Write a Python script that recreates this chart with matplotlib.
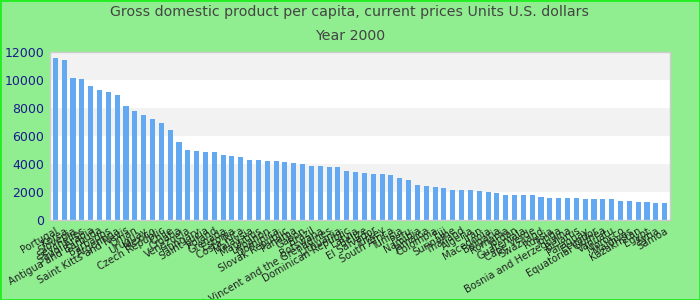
import numpy as np
import matplotlib
matplotlib.use("Agg")
from matplotlib import pyplot as plt
from matplotlib.patches import Rectangle

countries = [
    "Portugal", "Korea", "Slovenia", "Seychelles", "Saudi Arabia", "Antigua and Barbuda",
    "Barbados", "Argentina", "Saint Kitts and Nevis", "Oman", "Uruguay", "Mexico",
    "Czech Republic", "Chile", "Croatia", "Venezuela", "Hungary", "Saint Lucia",
    "Poland", "Grenada", "Estonia", "Costa Rica", "Malaysia", "Mauritius",
    "Lebanon", "Dominica", "Slovak Republic", "Panama", "Gabon", "Brazil",
    "Botswana", "Saint Vincent and the Grenadines", "Lithuania", "Dominican Republic",
    "Latvia", "Belize", "El Salvador", "Turkey", "South Africa", "Tunisia",
    "Peru", "Namibia", "Jamaica", "Colombia", "Fiji", "Suriname",
    "Thailand", "Algeria", "Iran", "Macedonia", "Bulgaria", "Romania",
    "Jordan", "Guatemala", "Cape Verde", "Swaziland", "Russia", "Tonga",
    "Bosnia and Herzegovina", "Belarus", "Paraguay", "Ecuador", "Equatorial Guinea",
    "Vanuatu", "Morocco", "Maldives", "Kazakhstan", "Egypt", "Syria", "Samoa",
]

gdp = [
    11525, 11382, 10099, 10028, 9529, 9244, 9100, 8887, 8103, 7770,
    7461, 7176, 6891, 6416, 5537, 4990, 4918, 4847, 4845, 4633,
    4562, 4491, 4277, 4270, 4206, 4200, 4134, 4063, 3992, 3849,
    3845, 3778, 3770, 3493, 3421, 3350, 3279, 3275, 3208, 2994,
    2851, 2495, 2424, 2352, 2281, 2138, 2135, 2130, 2067, 1996,
    1925, 1782, 1780, 1778, 1775, 1639, 1568, 1566, 1564, 1562,
    1497, 1495, 1493, 1490, 1354, 1350, 1283, 1280, 1212, 1210,
]

yticks = [0, 2000, 4000, 6000, 8000, 10000, 12000]

bg = "#90ee90"
fig = plt.figure(figsize=(7, 3), dpi=100, facecolor=bg)
ax = fig.add_axes([50 / 700, 1 - 220 / 300, 620 / 700, 168.3 / 300])
ax.set_facecolor("white")

# alternating horizontal bands
for i in range(len(yticks) - 1):
    if i % 2 == 1:
        ax.axhspan(yticks[i], yticks[i + 1], color="#f2f2f2", lw=0, zorder=0)

x = np.arange(len(countries))
ax.bar(x, gdp, width=0.58, color="#63a9f2", zorder=2)

ax.set_xlim(-0.6, len(countries) - 0.4)
ax.set_ylim(0, 12000)
ax.set_yticks(yticks)
ax.set_yticklabels([str(v) for v in yticks], color="#1a1a8c", fontsize=9)
ax.set_xticks(x)
ax.set_xticklabels(countries, rotation=30, ha="right", rotation_mode="anchor",
                   fontsize=7.2, color="#222222")
ax.tick_params(length=0, pad=4)
ax.tick_params(axis="x", pad=4)
for s in ax.spines.values():
    s.set_color("#cccccc")
    s.set_linewidth(1)

fig.text(0.5, 1 - 12 / 300, "Gross domestic product per capita, current prices Units U.S. dollars",
         ha="center", va="center", fontsize=10.2, color="#444444")
fig.text(0.5, 1 - 36 / 300, "Year 2000", ha="center", va="center", fontsize=10.2, color="#444444")

fig.patches.append(Rectangle((0, 0), 1, 1, transform=fig.transFigure, fill=False,
                             edgecolor="#22ee22", lw=2))

fig.savefig("out.png", dpi=100, facecolor=bg)
